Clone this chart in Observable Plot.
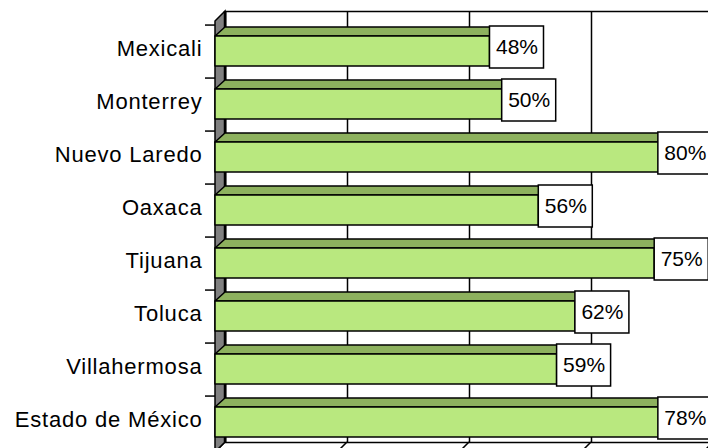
<!DOCTYPE html>
<html><head><meta charset="utf-8">
<script src="https://cdn.jsdelivr.net/npm/d3@7"></script>
<script src="https://cdn.jsdelivr.net/npm/@observablehq/plot@0.6"></script>
<style>
html,body{margin:0;padding:0;background:#fff;overflow:hidden;width:708px;height:448px}
#chart svg{display:block;overflow:hidden}
#chart g[aria-label="y-axis tick label"] text{letter-spacing:0.8px}
</style></head><body><div id="chart"></div>
<script>
// ---- data ----
const cities = ["Mexicali","Monterrey","Nuevo Laredo","Oaxaca","Tijuana","Toluca","Villahermosa","Estado de México"];
const values = [48, 50, 80, 56, 75, 62, 59, 78];
const gridValues = [3, 23, 43, 63, 83];
const data = cities.map((c, i) => ({city: c, value: values[i]}));

// ---- style ----
const FONT = "'Liberation Sans', Arial, sans-serif";
const FRONT = "#B9E87F", TOPC = "#8DB15E", ENDC = "#7A9E4E", WALL = "#808080";
const DX = 10, DY = -10, BDY = -9;
const LABEL_MAX = 75.6;

function bandwidthOf(scales, dims) {
  const y = scales.y;
  if (y && typeof y.bandwidth === "function") return y.bandwidth();
  if (y && typeof y.bandwidth === "number") return y.bandwidth;
  return (dims.height - dims.marginTop - dims.marginBottom) / cities.length;
}

// 3D side wall and floor gridlines
function box3d(index, scales, values, dims) {
  const L = dims.marginLeft, T = dims.marginTop, bottom = dims.height - dims.marginBottom;
  const g = d3.create("svg:g");
  for (const v of gridValues) {
    const x = scales.x(v);
    g.append("line").attr("x1", x + DX).attr("y1", bottom + DY).attr("x2", x).attr("y2", bottom)
      .attr("stroke", "black").attr("stroke-width", 1.5);
  }
  g.append("path")
    .attr("d", `M${L},${T}L${L + DX},${T + DY}L${L + DX},${bottom + DY}L${L},${bottom}Z`)
    .attr("fill", WALL).attr("stroke", "black").attr("stroke-width", 1.5);
  g.append("line").attr("x1", L + DX).attr("x2", L + DX).attr("y1", T + DY).attr("y2", bottom + DY)
    .attr("stroke", "black").attr("stroke-width", 2.5);
  return g.node();
}

// 3D bars
function bars3d(index, scales, values, dims) {
  const bw = bandwidthOf(scales, dims);
  const X1 = values.x1, X2 = values.x2, Y = values.y;
  const g = d3.create("svg:g").attr("stroke", "black").attr("stroke-width", 1.5).attr("stroke-linejoin", "round");
  for (const i of index) {
    const x0 = X1[i], x1 = X2[i];
    const yt = Y[i] + 11, yb = Y[i] + bw - 12;
    g.append("path").attr("fill", TOPC)
      .attr("d", `M${x0},${yt}L${x0 + DX},${yt + BDY}L${x1 + DX},${yt + BDY}L${x1},${yt}Z`);
    g.append("path").attr("fill", ENDC)
      .attr("d", `M${x1},${yt}L${x1 + DX},${yt + BDY}L${x1 + DX},${yb + BDY}L${x1},${yb}Z`);
    g.append("rect").attr("fill", FRONT).attr("x", x0).attr("y", yt).attr("width", x1 - x0).attr("height", yb - yt);
  }
  return g.node();
}

const chart = Plot.plot({
  width: 708,
  height: 452,
  marginLeft: 215,
  marginRight: 5,
  marginTop: 21,
  marginBottom: 0,
  style: {fontFamily: FONT, fontSize: "22px", background: "white", color: "black"},
  x: {domain: [3, 83], axis: null},
  y: {domain: cities, padding: 0, axis: null},
  marks: [
    Plot.frame({dx: DX, dy: DY, fill: "white", stroke: "black", strokeWidth: 1.5}),
    Plot.ruleX(gridValues, {x: d => d, dx: DX, dy: DY, stroke: "black", strokeWidth: 1.5}),
    box3d,
    Plot.barX(data, {x1: () => 3, x2: "value", y: "city", render: bars3d}),
    Plot.axisY({tickSize: 10, dy: -26.94, tickFormat: () => "", strokeWidth: 1.5, label: null}),
    Plot.axisY({tickSize: 0, tickPadding: 13, dy: -3, fontSize: 22, label: null}),
    Plot.barX(data, {x1: d => Math.min(d.value, LABEL_MAX), x2: d => Math.min(d.value, LABEL_MAX), y: "city",
      insetTop: 1, insetBottom: 10, insetLeft: 0, insetRight: -54, fill: "white", stroke: "black", strokeWidth: 1.5}),
    Plot.text(data, {x: d => Math.min(d.value, LABEL_MAX), y: "city", text: d => d.value + "%",
      dx: 27, dy: -5, fontSize: 21, textAnchor: "middle", fill: "black"})
  ]
});
document.getElementById("chart").append(chart);
</script></body></html>
